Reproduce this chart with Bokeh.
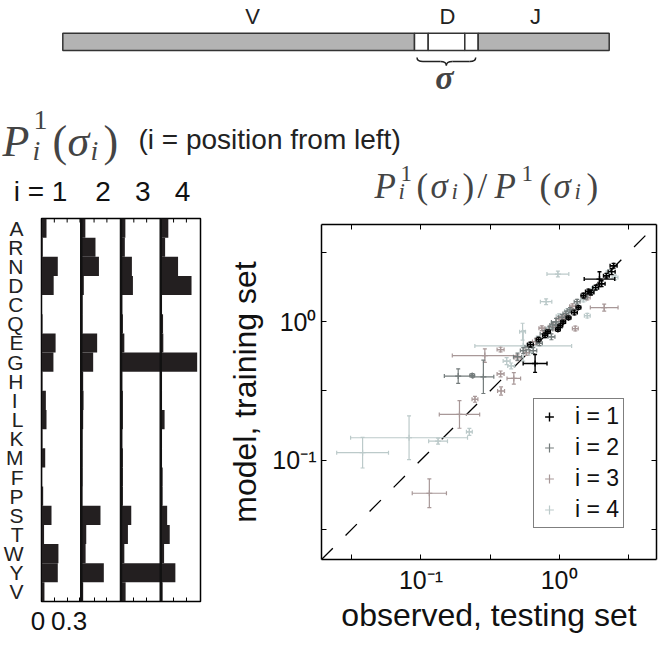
import numpy as np
from bokeh.plotting import figure
from bokeh.layouts import column, row
from bokeh.models import (Range1d, ColumnDataSource, Label, Span, FixedTicker,
                          CustomJSTickFormatter, LinearAxis, LogAxis, Whisker, TeeHead,
                          Legend, LegendItem)
from bokeh.embed import file_html
from bokeh.resources import INLINE

# ---------------- data ----------------
amino_acids = list("ARNDCQEGHILKMFPSTWYV")
freq_pos1 = [0.039, 0.010, 0.127, 0.095, 0.003, 0.008, 0.110, 0.093, 0.008, 0.034,
             0.039, 0.008, 0.029, 0.005, 0.013, 0.078, 0.020, 0.132, 0.127, 0.023]
freq_pos2 = [0.032, 0.111, 0.138, 0.020, 0.010, 0.010, 0.124, 0.093, 0.015, 0.018,
             0.015, 0.010, 0.010, 0.010, 0.008, 0.150, 0.039, 0.034, 0.176, 0.015]
freq_pos3 = [0.034, 0.030, 0.085, 0.093, 0.010, 0.015, 0.026, 0.360, 0.010, 0.015,
             0.015, 0.010, 0.015, 0.015, 0.015, 0.080, 0.054, 0.026, 0.340, 0.036]
freq_pos4 = [0.059, 0.034, 0.135, 0.240, 0.010, 0.018, 0.020, 0.284, 0.010, 0.010,
             0.030, 0.010, 0.010, 0.015, 0.015, 0.050, 0.070, 0.026, 0.114, 0.015]
position_headers = ["i = 1", "2", "3", "4"]
freq_ticks = [0.1, 0.2]
freq_labels = ["0", "0.3"]

# observed (testing set) vs model (training set) ratios, with multiplicative error factors
obs1 = [2.48, 1.96, 1.63, 1.50, 1.84, 1.02, 1.07, 0.79, 0.83, 0.67,
        0.71, 1.17, 1.29, 2.03, 2.20, 0.98, 0.62, 1.70, 1.38, 2.40]
mod1 = [2.55, 2.04, 1.66, 1.55, 1.77, 0.94, 1.00, 0.80, 0.85, 0.50,
        0.745, 1.07, 1.17, 1.89, 2.16, 0.88, 0.685, 1.63, 1.27, 2.31]
obs_err1 = [1.06, 1.29, 1.05, 1.04, 1.05, 1.04, 1.04, 1.04, 1.04, 1.22,
            1.04, 1.04, 1.05, 1.06, 1.05, 1.04, 1.05, 1.05, 1.04, 1.06]
mod_err1 = [1.04, 1.13, 1.04, 1.04, 1.04, 1.03, 1.03, 1.04, 1.03, 1.16,
            1.04, 1.03, 1.04, 1.05, 1.04, 1.03, 1.04, 1.04, 1.03, 1.05]

obs2 = [0.186, 0.235, 0.283, 0.55, 0.60, 0.72, 0.78, 0.85, 0.90, 0.95,
        1.00, 1.05, 1.12, 1.20, 0.88, 1.55, 1.70, 0.50, 0.65, 1.35]
mod2 = [0.405, 0.41, 0.40, 0.62, 0.66, 0.70, 0.82, 0.88, 0.95, 1.00,
        0.92, 1.08, 1.15, 1.22, 0.78, 1.52, 1.65, 0.56, 0.62, 1.40]
obs_err2 = [1.26, 1.04, 1.19, 1.05, 1.06, 1.05, 1.07, 1.06, 1.05, 1.08,
            1.05, 1.06, 1.05, 1.05, 1.06, 1.04, 1.05, 1.07, 1.06, 1.05]
mod_err2 = [1.13, 1.03, 1.32, 1.05, 1.05, 1.04, 1.06, 1.05, 1.05, 1.06,
            1.04, 1.05, 1.04, 1.04, 1.05, 1.04, 1.04, 1.06, 1.05, 1.04]

obs3 = [2.12, 1.31, 0.377, 0.377, 0.38, 0.29, 0.47, 0.246, 0.19, 0.115,
        0.50, 0.58, 0.68, 0.80, 0.90, 1.00, 1.10, 0.75, 1.25, 1.60]
mod3 = [1.27, 0.895, 0.63, 0.42, 0.316, 0.57, 0.39, 0.275, 0.214, 0.0575,
        0.55, 0.60, 0.72, 0.85, 0.92, 1.05, 1.10, 0.90, 1.30, 1.50]
obs_err3 = [1.26, 1.05, 1.06, 1.06, 1.06, 1.72, 1.12, 1.05, 1.40, 1.33,
            1.06, 1.05, 1.06, 1.05, 1.07, 1.05, 1.06, 1.05, 1.05, 1.05]
mod_err3 = [1.06, 1.04, 1.04, 1.05, 1.07, 1.12, 1.10, 1.05, 1.26, 1.27,
            1.05, 1.05, 1.05, 1.04, 1.05, 1.04, 1.05, 1.04, 1.04, 1.04]

obs4 = [0.98, 1.60, 0.805, 0.544, 0.55, 0.224, 0.133, 0.082, 0.0378, 0.417,
        0.60, 0.70, 0.85, 1.00, 1.15, 1.50, 1.80, 2.30, 2.54, 0.45]
mod4 = [2.22, 1.11, 1.40, 0.85, 0.67, 0.16, 0.137, 0.145, 0.113, 0.52,
        0.60, 0.75, 0.90, 1.10, 1.20, 1.45, 1.75, 2.30, 2.10, 0.48]
obs_err4 = [1.20, 1.05, 1.10, 1.05, 2.24, 1.05, 1.17, 2.65, 1.54, 1.06,
            1.06, 1.05, 1.06, 1.05, 1.05, 1.05, 1.05, 1.05, 1.05, 1.06]
mod_err4 = [1.05, 1.04, 1.05, 1.15, 1.29, 1.06, 1.05, 1.44, 1.29, 1.06,
            1.05, 1.05, 1.05, 1.04, 1.04, 1.04, 1.04, 1.04, 1.04, 1.05]
legend_labels = ["i = 1", "i = 2", "i = 3", "i = 4"]
log_ticks_exp = [-1.5, -1.0, -0.5, 0.0, 0.5]

# gene schematic: segment name, relative length, fill
gene_segments = [("V", 351.7, "#b3b3b3"), ("s1", 13.7, "white"), ("s2", 36.6, "white"),
                 ("s3", 13.4, "white"), ("J", 131.0, "#b3b3b3")]
gene_names = ["V", "D", "J"]

SANS = "Liberation Sans"
SERIF = "Liberation Serif"
TOTAL_W = 656
TOP_H = 207
NB = "\u00a0"

# ---------------- top: schematic + titles (pixel-like coordinates) ----------------
top = figure(width=TOTAL_W, height=TOP_H, x_range=Range1d(0, TOTAL_W), y_range=Range1d(TOP_H, 0),
             min_border=0, x_axis_location=None, y_axis_location=None,
             toolbar_location=None, output_backend="svg", outline_line_color=None)
top.grid.visible = False
top.frame_align = False

seg_len = np.array([s[1] for s in gene_segments])
x0 = 62.3
lefts = x0 + np.concatenate([[0], np.cumsum(seg_len)[:-1]])
rights = x0 + np.cumsum(seg_len)
top.quad(left=lefts, right=rights, top=32.7, bottom=50.0,
         fill_color=[s[2] for s in gene_segments], line_color="#333333", line_width=1.5)

name_x = [252, 0.5 * (lefts[1] + rights[3]) + 1, 535]
for nm, xx in zip(gene_names, name_x):
    top.add_layout(Label(x=xx, y=16, text=nm, text_align="center", text_baseline="middle",
                         text_font=SANS, text_font_size="22px", text_color="#222222"))

# brace under the sigma boxes
bl, br = lefts[1] + 2.5, rights[3] - 2.5
bm = 0.5 * (bl + br)
top.quadratic(x0=[bl, bm - 6, bm, br - 6], y0=[57, 61, 65, 61],
              x1=[bl + 6, bm, bm + 6, br], y1=[61, 65, 61, 57],
              cx=[bl, bm, bm, br], cy=[61, 61, 61, 61], line_color="#222222", line_width=1.5)
top.segment(x0=[bl + 6, bm + 6], y0=[61, 61], x1=[bm - 6, br - 6], y1=[61, 61],
            line_color="#222222", line_width=1.5)
top.add_layout(Label(x=bm - 2, y=77, text="σ", text_align="center", text_baseline="middle",
                     text_font=SERIF, text_font_style="bold italic", text_font_size="34px"))


def math_title(fig, x_start, base, pieces, big, small, sup_dy, sub_dy):
    for txt, dx, kind in pieces:
        if kind == "m":
            fig.add_layout(Label(x=x_start + dx, y=base, text=txt, text_baseline="alphabetic",
                                 text_font=SERIF, text_font_style="italic", text_font_size=big))
        elif kind == "r":
            fig.add_layout(Label(x=x_start + dx, y=base, text=txt, text_baseline="alphabetic",
                                 text_font=SERIF, text_font_size=big))
        elif kind == "sup":
            fig.add_layout(Label(x=x_start + dx, y=base - sup_dy, text=txt, text_baseline="alphabetic",
                                 text_font=SERIF, text_font_size=small))
        else:
            fig.add_layout(Label(x=x_start + dx, y=base + sub_dy, text=txt, text_baseline="alphabetic",
                                 text_font=SERIF, text_font_style="italic", text_font_size=small))


left_pieces = [("P", 0, "m"), ("1", 31, "sup"), ("i", 30, "sub"), ("(", 50, "r"),
               ("σ", 65, "m"), ("i", 88, "sub"), (")", 101, "r")]
math_title(top, 2, 141, left_pieces, "44px", "28px", 22, 9)
top.add_layout(Label(x=138, y=139, text="(i = position from left)", text_baseline="alphabetic",
                     text_font=SANS, text_font_size="28px", text_color="#222222"))

sc_pieces = [("P", 0, "m"), ("1", 26, "sup"), ("i", 24, "sub"), ("(", 42, "r"),
             ("σ", 56, "m"), ("i", 77, "sub"), (")", 88, "r"), ("/", 103, "r"),
             ("P", 120, "m"), ("1", 147, "sup"), ("(", 165, "r"), ("σ", 179, "m"),
             ("i", 200, "sub"), (")", 212, "r")]
math_title(top, 374, 186, sc_pieces, "35px", "23px", 13, 5)

# column headers of the frequency panel
LEFT_FRAME_X, LEFT_FRAME_W, LEFT_FRAME_H = 38, 159, 383
COLW = LEFT_FRAME_W / 4
for c, h in enumerate(position_headers):
    cx_ = LEFT_FRAME_X + COLW * (c + 0.5)
    if c == 0:
        top.add_layout(Label(x=cx_ + 9, y=191, text=h, text_align="right", text_baseline="middle",
                             text_font=SANS, text_font_size="28px", text_color="#111111"))
    else:
        top.add_layout(Label(x=cx_ + 5, y=191, text=h, text_align="center", text_baseline="middle",
                             text_font=SANS, text_font_size="28px", text_color="#111111"))

# ---------------- left: per-position amino-acid frequencies ----------------
W = 0.31
nrow = len(amino_acids)
rows_y = np.arange(nrow)[::-1] + 0.5
lf = figure(frame_width=LEFT_FRAME_W, frame_height=LEFT_FRAME_H, x_range=Range1d(0, 4 * W),
            y_range=Range1d(0, nrow),
            min_border_left=LEFT_FRAME_X, min_border_right=18, min_border_top=218 - TOP_H,
            min_border_bottom=39,
            x_axis_location=None, y_axis_location=None, toolbar_location=None,
            output_backend="svg")
lf.frame_align = False
lf.grid.visible = False
lf.outline_line_color = "black"
lf.outline_line_width = 1.5
for c, vals in enumerate([freq_pos1, freq_pos2, freq_pos3, freq_pos4]):
    v = np.minimum(np.array(vals), W)
    src = ColumnDataSource(dict(y=rows_y, left=np.full(nrow, c * W), right=c * W + v))
    lf.hbar(y="y", left="left", right="right", height=1.0, source=src,
            fill_color="#231f20", line_color=None)
for c in range(1, 4):
    lf.add_layout(Span(location=c * W, dimension="height", line_color="#111111", line_width=2.5))

tick_pos = [0.0] + freq_ticks + [0.3] + [c * W + t for c in range(1, 4) for t in freq_ticks]
fmt_code = """
if (Math.abs(tick) < 1e-9) return "%s";
if (Math.abs(tick - 0.3) < 1e-9) return "%s";
return "";
""" % (freq_labels[0] + NB, freq_labels[1] + NB * 3)
xb = LinearAxis(ticker=FixedTicker(ticks=tick_pos), formatter=CustomJSTickFormatter(code=fmt_code),
                axis_line_color=None, major_tick_in=4, major_tick_out=0, minor_tick_line_color=None,
                major_label_standoff=4, major_label_text_font=SANS, major_label_text_font_size="26px",
                major_label_text_color="#111111")
lf.add_layout(xb, "below")
# inward tick marks along the top edge (same positions as the bottom axis)
tick_len = 4 * nrow / LEFT_FRAME_H
lf.segment(x0=tick_pos, y0=[nrow] * len(tick_pos), x1=tick_pos, y1=[nrow - tick_len] * len(tick_pos),
           line_color="black", line_width=1)

aa_code = ("const aa = %r; const k = %d - Math.floor(tick);"
           " if (k < 0 || k >= aa.length) return '';"
           " return aa[k] == 'I' ? 'I\\u00a0' : aa[k];") % ("".join(amino_acids), nrow - 1)
ya = LinearAxis(ticker=FixedTicker(ticks=list(rows_y)), formatter=CustomJSTickFormatter(code=aa_code),
                axis_line_color=None, major_tick_line_color=None, major_tick_in=0, major_tick_out=0,
                minor_tick_line_color=None, major_label_standoff=18, major_label_text_font=SANS,
                major_label_text_font_size="21px", major_label_text_color="#222222")
lf.add_layout(ya, "left")

# ---------------- right: model vs observed (log-log) ----------------
LOG_LO, LOG_HI = -1.72, 0.705
sp = figure(frame_width=335, frame_height=335, x_axis_type="log", y_axis_type="log",
            x_range=Range1d(10 ** LOG_LO, 10 ** LOG_HI), y_range=Range1d(10 ** LOG_LO, 10 ** LOG_HI),
            min_border_left=103, min_border_right=3, min_border_top=224 - TOP_H, min_border_bottom=81,
            toolbar_location=None, output_backend="svg")
sp.frame_align = False
sp.grid.visible = False
sp.outline_line_color = None

log_fmt = CustomJSTickFormatter(code="""
const l = Math.log10(tick);
if (Math.abs(l - Math.round(l)) > 1e-6) return "";
const n = Math.round(l);
const sup = {"-": "\u207b", "0": "\u2070", "1": "\u00b9", "2": "\u00b2", "3": "\u00b3"};
return "10" + String(n).split("").map(ch => sup[ch]).join("");
""")
ticks = [10 ** e for e in log_ticks_exp]
for ax in (sp.xaxis[0], sp.yaxis[0]):
    ax.ticker = FixedTicker(ticks=ticks, minor_ticks=[])
    ax.formatter = log_fmt
    ax.axis_line_color = "black"
    ax.axis_line_width = 1.5
    ax.major_tick_in = 5
    ax.major_tick_out = 0
    ax.major_tick_line_width = 1
    ax.minor_tick_line_color = None
    ax.major_label_text_font = SANS
    ax.major_label_text_font_size = "25px"
    ax.major_label_text_color = "#111111"
    ax.axis_label_text_font = SANS
    ax.axis_label_text_font_size = "32px"
    ax.axis_label_text_font_style = "normal"
    ax.axis_label_text_color = "#111111"
sp.xaxis[0].axis_label = "observed, testing set"
sp.yaxis[0].axis_label = "model, training set"
sp.xaxis[0].major_label_standoff = 6
sp.xaxis[0].axis_label_standoff = 0
sp.yaxis[0].major_label_standoff = 5
sp.yaxis[0].axis_label_standoff = 6
for loc in ("above", "right"):
    ax = LogAxis(ticker=FixedTicker(ticks=ticks, minor_ticks=[]),
                 formatter=CustomJSTickFormatter(code='return "";'),
                 axis_line_color="black", axis_line_width=1.5, major_tick_in=5, major_tick_out=0,
                 minor_tick_line_color=None, major_label_standoff=0, major_label_text_font_size="1px")
    sp.add_layout(ax, loc)

diag = [10 ** LOG_LO, 10 ** LOG_HI]
sp.line(x=diag, y=diag, line_color="black", line_width=1.3, line_dash="16 18")

series = [(obs1, mod1, obs_err1, mod_err1, "#000000", 1.4),
          (obs2, mod2, obs_err2, mod_err2, "#737b7b", 1.2),
          (obs3, mod3, obs_err3, mod_err3, "#a89898", 1.2),
          (obs4, mod4, obs_err4, mod_err4, "#bccaca", 1.2)]
marker_renderers = [None] * 4
for k in [3, 2, 1, 0]:
    ob, md, oe, me, col, lw = series[k]
    ob, md, oe, me = map(np.array, (ob, md, oe, me))
    src = ColumnDataSource(dict(x=ob, y=md, xlo=ob / oe, xhi=ob * oe, ylo=md / me, yhi=md * me))
    for base, lo, hi, dim in (("y", "xlo", "xhi", "width"), ("x", "ylo", "yhi", "height")):
        sp.add_layout(Whisker(source=src, base=base, lower=lo, upper=hi, dimension=dim,
                              line_color=col, line_width=lw, level="glyph",
                              lower_head=TeeHead(size=4, line_color=col, line_width=lw),
                              upper_head=TeeHead(size=4, line_color=col, line_width=lw)))
    marker_renderers[k] = sp.scatter(x="x", y="y", source=src, marker="cross", size=6,
                                     line_color=col, line_width=lw)

legend = Legend(items=[LegendItem(label=legend_labels[k], renderers=[marker_renderers[k]])
                       for k in range(4)],
                location=(212, 31), border_line_color="black", border_line_width=1.5,
                background_fill_alpha=1, label_text_font=SANS, label_text_font_size="23px",
                label_text_color="#111111", glyph_width=22, glyph_height=25, label_height=25,
                spacing=4, padding=4, margin=0, label_standoff=15)
sp.add_layout(legend)

layout = column(top, row(lf, sp))
open("out.html", "w").write(file_html(layout, INLINE))
